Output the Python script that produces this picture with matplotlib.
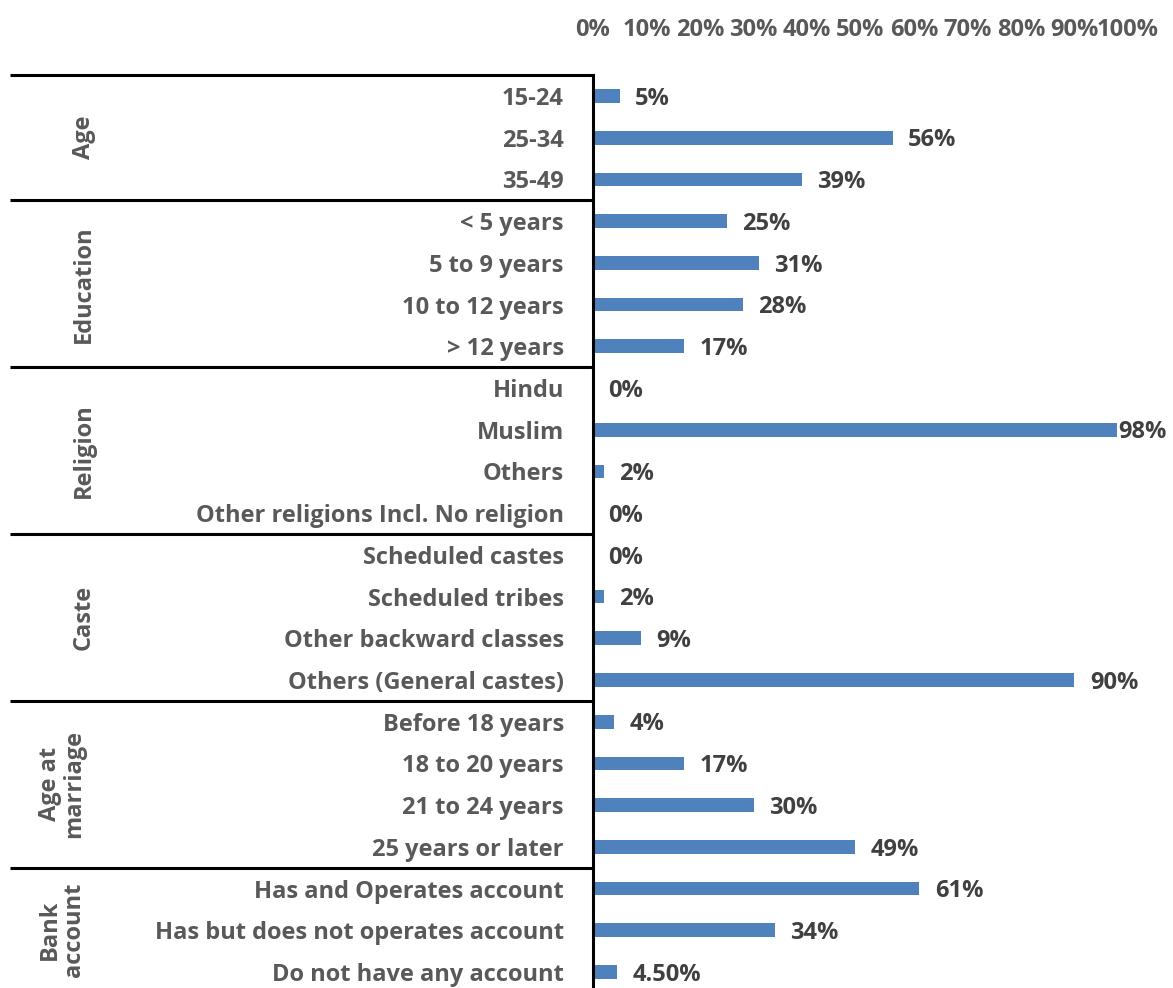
import numpy as np
import matplotlib
matplotlib.use('Agg')
import matplotlib.pyplot as plt
from matplotlib.transforms import blended_transform_factory

plt.rcParams['font.family'] = ['Open Sans', 'DejaVu Sans']
plt.rcParams['font.weight'] = 'bold'

# categories grouped by characteristic
groups = ['Age', 'Education', 'Religion', 'Caste', 'Age at\nmarriage', 'Bank\naccount']
categories = [
    ['15-24', '25-34', '35-49'],
    ['< 5 years', '5 to 9 years', '10 to 12 years', '> 12 years'],
    ['Hindu', 'Muslim', 'Others', 'Other religions Incl. No religion'],
    ['Scheduled castes', 'Scheduled tribes', 'Other backward classes', 'Others (General castes)'],
    ['Before 18 years', '18 to 20 years', '21 to 24 years', '25 years or later'],
    ['Has and Operates account', 'Has but does not operates account', 'Do not have any account'],
]
values = [
    [5, 56, 39],
    [25, 31, 28, 17],
    [0, 98, 2, 0],
    [0, 2, 9, 90],
    [4, 17, 30, 49],
    [61, 34, 4.5],
]
value_labels = [
    ['5%', '56%', '39%'],
    ['25%', '31%', '28%', '17%'],
    ['0%', '98%', '2%', '0%'],
    ['0%', '2%', '9%', '90%'],
    ['4%', '17%', '30%', '49%'],
    ['61%', '34%', '4.50%'],
]
xticks = np.arange(0, 101, 10)

grey = '#595959'
dark = '#404040'
blue = '#4F81BD'
fs = 17

names = [c for g in categories for c in g]
vals = [v for g in values for v in g]
labs = [l for g in value_labels for l in g]
n = len(names)
ypos = np.arange(n)

W, H = 1173, 988
fig = plt.figure(figsize=(W / 100, H / 100), dpi=100)
ax_left, ax_right = 593, 1128
row_h = (972 - 96) / (n - 1)
top = 96 - row_h / 2
bottom = top + row_h * n
ax = fig.add_axes([ax_left / W, 1 - bottom / H, (ax_right - ax_left) / W, (bottom - top) / H])

ax.barh(ypos, vals, height=0.33, color=blue)
ax.set_ylim(n - 0.5, -0.5)
ax.set_xlim(0, 100)

ax.xaxis.tick_top()
ax.set_xticks(xticks)
ax.set_xticklabels([f'{t}%' for t in xticks], fontsize=fs, color=grey)
ax.tick_params(axis='x', length=0, pad=24)
ax.set_yticks(ypos)
ax.set_yticklabels(names, fontsize=fs, color=grey)
ax.tick_params(axis='y', length=0, pad=21)

for s in ['top', 'right', 'bottom']:
    ax.spines[s].set_visible(False)
ax.spines['left'].set_linewidth(2.2)
ax.spines['left'].set_color('black')

for y, v, l in zip(ypos, vals, labs):
    off = 1 if v > 95 else 11
    ax.annotate(l, (v, y), xytext=(off, -2), textcoords='offset points',
                ha='left', va='center', fontsize=fs, color=dark)

# group separators and group names on the left
tr = blended_transform_factory(ax.transAxes, ax.transData)
span = ax_right - ax_left
x0 = (10 - ax_left) / span
start = 0
for g, cats in zip(groups, categories):
    ax.plot([x0, 0], [start - 0.5, start - 0.5], color='black', lw=2.2,
            transform=tr, clip_on=False, solid_capstyle='butt')
    mid = start + (len(cats) - 1) / 2
    xg = (84 - ax_left) / span if '\n' not in g else (62 - ax_left) / span
    ax.text(xg, mid, g, transform=tr, rotation=90, ha='center', va='center',
            fontsize=fs, color=grey, multialignment='center', linespacing=1.05)
    start += len(cats)

fig.savefig('out.png', dpi=100)
